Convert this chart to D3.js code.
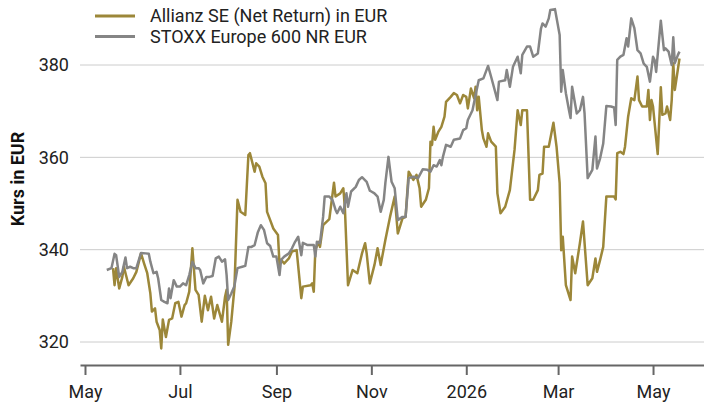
<!DOCTYPE html>
<html>
<head>
<meta charset="utf-8">
<script src="https://cdn.jsdelivr.net/npm/d3@7"></script>
<style>
  body { margin: 0; background: #fff; }
  svg { display: block; font-family: Roboto, "Noto Sans", sans-serif; }
</style>
</head>
<body>
<svg id="chart" width="704" height="403"></svg>
<script>
// Allianz SE (Net Return) in EUR
var allianz = [
    ["2025-05-19", 336.0], ["2025-05-20", 332.3], ["2025-05-21", 336.0], ["2025-05-23", 331.6],
    ["2025-05-25", 334.1], ["2025-05-26", 336.3], ["2025-05-29", 332.3], ["2025-06-01", 333.8],
    ["2025-06-03", 335.2], ["2025-06-06", 339.2], ["2025-06-08", 337.0], ["2025-06-10", 334.9],
    ["2025-06-12", 330.5], ["2025-06-13", 326.6], ["2025-06-15", 327.3], ["2025-06-16", 324.4],
    ["2025-06-18", 322.6], ["2025-06-19", 318.6], ["2025-06-20", 324.9], ["2025-06-22", 321.1],
    ["2025-06-24", 324.8], ["2025-06-26", 325.1], ["2025-06-28", 328.4], ["2025-06-30", 328.7],
    ["2025-07-02", 325.5], ["2025-07-04", 328.0], ["2025-07-05", 328.4], ["2025-07-07", 330.9],
    ["2025-07-09", 340.3], ["2025-07-11", 331.3], ["2025-07-13", 330.2], ["2025-07-15", 324.4],
    ["2025-07-17", 330.0], ["2025-07-19", 326.9], ["2025-07-21", 329.8], ["2025-07-23", 325.1],
    ["2025-07-25", 328.0], ["2025-07-28", 324.4], ["2025-07-30", 329.8], ["2025-07-31", 331.3],
    ["2025-08-01", 319.4], ["2025-08-03", 324.4], ["2025-08-05", 331.6], ["2025-08-07", 350.8],
    ["2025-08-09", 348.2], ["2025-08-12", 347.5], ["2025-08-14", 360.5], ["2025-08-15", 360.9],
    ["2025-08-18", 356.9], ["2025-08-19", 358.7], ["2025-08-21", 358.0], ["2025-08-23", 355.8],
    ["2025-08-25", 354.4], ["2025-08-26", 348.2], ["2025-08-28", 346.4], ["2025-08-30", 344.6],
    ["2025-09-02", 343.2], ["2025-09-03", 336.7], ["2025-09-04", 337.8], ["2025-09-06", 337.0],
    ["2025-09-09", 338.1], ["2025-09-11", 339.6], ["2025-09-14", 339.9], ["2025-09-17", 329.5],
    ["2025-09-18", 332.0], ["2025-09-23", 332.3], ["2025-09-24", 332.7], ["2025-09-25", 330.9],
    ["2025-09-26", 339.9], ["2025-09-28", 341.7], ["2025-09-29", 340.6], ["2025-10-01", 345.3],
    ["2025-10-05", 346.6], ["2025-10-08", 354.5], ["2025-10-09", 351.5], ["2025-10-12", 352.2],
    ["2025-10-14", 353.3], ["2025-10-15", 349.0], ["2025-10-17", 332.3], ["2025-10-20", 335.6],
    ["2025-10-23", 334.9], ["2025-10-26", 339.2], ["2025-10-28", 341.4], ["2025-10-29", 339.2],
    ["2025-10-31", 332.7], ["2025-11-03", 336.7], ["2025-11-05", 340.3], ["2025-11-07", 336.7],
    ["2025-11-10", 342.1], ["2025-11-13", 347.1], ["2025-11-16", 351.5], ["2025-11-18", 343.5],
    ["2025-11-21", 346.8], ["2025-11-23", 347.1], ["2025-11-25", 356.9], ["2025-11-28", 355.1],
    ["2025-11-30", 356.2], ["2025-12-02", 353.3], ["2025-12-03", 349.3], ["2025-12-06", 350.8],
    ["2025-12-08", 353.3], ["2025-12-09", 363.4], ["2025-12-10", 362.7], ["2025-12-11", 366.6],
    ["2025-12-12", 363.8], ["2025-12-14", 365.5], ["2025-12-16", 366.6], ["2025-12-18", 368.8],
    ["2025-12-19", 372.0], ["2025-12-22", 373.1], ["2025-12-24", 373.9], ["2025-12-26", 373.5],
    ["2025-12-28", 371.7], ["2025-12-30", 373.5], ["2026-01-01", 373.1], ["2026-01-02", 370.6],
    ["2026-01-04", 374.9], ["2026-01-06", 372.8], ["2026-01-07", 375.3], ["2026-01-08", 370.2],
    ["2026-01-09", 373.1], ["2026-01-11", 365.9], ["2026-01-12", 364.1], ["2026-01-14", 362.3],
    ["2026-01-15", 365.2], ["2026-01-17", 363.4], ["2026-01-20", 362.3], ["2026-01-21", 352.2],
    ["2026-01-23", 347.9], ["2026-01-26", 349.3], ["2026-01-29", 352.9], ["2026-02-01", 361.6],
    ["2026-02-03", 370.2], ["2026-02-05", 367.0], ["2026-02-06", 370.2], ["2026-02-09", 370.2],
    ["2026-02-11", 350.8], ["2026-02-13", 350.8], ["2026-02-16", 352.9], ["2026-02-17", 356.2],
    ["2026-02-19", 356.5], ["2026-02-20", 362.3], ["2026-02-23", 362.3], ["2026-02-26", 367.5],
    ["2026-02-28", 362.3], ["2026-03-02", 354.4], ["2026-03-03", 339.9], ["2026-03-04", 342.8],
    ["2026-03-06", 332.3], ["2026-03-09", 329.1], ["2026-03-10", 338.5], ["2026-03-12", 334.9],
    ["2026-03-15", 341.4], ["2026-03-17", 346.1], ["2026-03-20", 332.3], ["2026-03-23", 333.8],
    ["2026-03-25", 338.1], ["2026-03-26", 335.2], ["2026-03-28", 337.8], ["2026-03-30", 340.6],
    ["2026-04-01", 351.5], ["2026-04-06", 351.5], ["2026-04-07", 350.9], ["2026-04-08", 360.9],
    ["2026-04-10", 361.2], ["2026-04-12", 360.7], ["2026-04-13", 362.3], ["2026-04-15", 368.8],
    ["2026-04-17", 372.8], ["2026-04-19", 372.4], ["2026-04-21", 377.5], ["2026-04-22", 372.4],
    ["2026-04-24", 371.0], ["2026-04-27", 371.0], ["2026-04-28", 374.6], ["2026-04-29", 368.1],
    ["2026-04-30", 372.4], ["2026-05-01", 371.0], ["2026-05-04", 360.7], ["2026-05-06", 375.2],
    ["2026-05-07", 369.2], ["2026-05-09", 369.5], ["2026-05-10", 371.0], ["2026-05-12", 368.1],
    ["2026-05-13", 372.4], ["2026-05-14", 380.4], ["2026-05-15", 374.6], ["2026-05-18", 381.4]
];

// STOXX Europe 600 NR EUR (rebased)
var stoxx = [
    ["2025-05-15", 335.6], ["2025-05-18", 336.0], ["2025-05-20", 339.1], ["2025-05-21", 338.8],
    ["2025-05-23", 334.1], ["2025-05-25", 335.2], ["2025-05-27", 338.3], ["2025-05-28", 336.0],
    ["2025-05-30", 336.3], ["2025-06-01", 336.0], ["2025-06-03", 336.0], ["2025-06-06", 339.3],
    ["2025-06-09", 339.2], ["2025-06-11", 339.1], ["2025-06-12", 337.4], ["2025-06-14", 334.9],
    ["2025-06-16", 335.2], ["2025-06-17", 333.8], ["2025-06-19", 329.1], ["2025-06-21", 328.7],
    ["2025-06-23", 328.4], ["2025-06-24", 331.6], ["2025-06-25", 329.5], ["2025-06-27", 333.4],
    ["2025-06-29", 332.0], ["2025-07-01", 332.0], ["2025-07-03", 332.7], ["2025-07-05", 332.3],
    ["2025-07-07", 334.5], ["2025-07-09", 337.4], ["2025-07-11", 336.0], ["2025-07-13", 336.0],
    ["2025-07-14", 335.6], ["2025-07-16", 332.7], ["2025-07-18", 334.1], ["2025-07-20", 334.1],
    ["2025-07-22", 334.3], ["2025-07-24", 338.1], ["2025-07-26", 338.5], ["2025-07-28", 337.4],
    ["2025-07-30", 337.9], ["2025-07-31", 334.5], ["2025-08-01", 329.1], ["2025-08-03", 330.5],
    ["2025-08-05", 332.1], ["2025-08-07", 336.0], ["2025-08-10", 336.3], ["2025-08-12", 336.5],
    ["2025-08-14", 340.6], ["2025-08-16", 340.6], ["2025-08-18", 341.0], ["2025-08-20", 343.7],
    ["2025-08-22", 345.3], ["2025-08-24", 344.3], ["2025-08-26", 341.4], ["2025-08-28", 340.8],
    ["2025-08-30", 338.5], ["2025-09-01", 338.5], ["2025-09-03", 334.5], ["2025-09-04", 337.8],
    ["2025-09-06", 338.5], ["2025-09-09", 339.2], ["2025-09-11", 340.3], ["2025-09-13", 341.7],
    ["2025-09-15", 342.8], ["2025-09-17", 338.8], ["2025-09-18", 341.5], ["2025-09-21", 341.0],
    ["2025-09-25", 341.0], ["2025-09-26", 338.5], ["2025-09-27", 341.7], ["2025-09-29", 341.4],
    ["2025-10-01", 347.1], ["2025-10-02", 351.5], ["2025-10-05", 351.5], ["2025-10-07", 350.8],
    ["2025-10-09", 348.6], ["2025-10-10", 347.9], ["2025-10-12", 349.3], ["2025-10-14", 347.9],
    ["2025-10-16", 352.2], ["2025-10-17", 349.3], ["2025-10-19", 352.6], ["2025-10-22", 353.6],
    ["2025-10-24", 355.1], ["2025-10-26", 355.7], ["2025-10-29", 354.7], ["2025-10-31", 352.8],
    ["2025-11-01", 352.6], ["2025-11-03", 352.2], ["2025-11-05", 351.5], ["2025-11-07", 348.2],
    ["2025-11-09", 350.8], ["2025-11-10", 354.4], ["2025-11-12", 360.1], ["2025-11-14", 354.7],
    ["2025-11-16", 353.3], ["2025-11-18", 346.4], ["2025-11-21", 347.1], ["2025-11-23", 347.1],
    ["2025-11-25", 355.5], ["2025-11-28", 355.8], ["2025-12-01", 355.5], ["2025-12-04", 357.4],
    ["2025-12-07", 357.3], ["2025-12-09", 356.9], ["2025-12-11", 358.3], ["2025-12-13", 358.0],
    ["2025-12-15", 359.4], ["2025-12-16", 358.3], ["2025-12-17", 360.1], ["2025-12-19", 362.7],
    ["2025-12-22", 362.3], ["2025-12-24", 363.8], ["2025-12-28", 364.1], ["2025-12-30", 365.9],
    ["2026-01-01", 366.3], ["2026-01-02", 368.1], ["2026-01-05", 370.2], ["2026-01-07", 373.5],
    ["2026-01-09", 376.7], ["2026-01-12", 377.1], ["2026-01-15", 379.8], ["2026-01-17", 377.4],
    ["2026-01-21", 372.4], ["2026-01-22", 376.4], ["2026-01-26", 376.7], ["2026-01-27", 378.9],
    ["2026-01-29", 375.3], ["2026-01-31", 379.6], ["2026-02-03", 381.8], ["2026-02-05", 378.2],
    ["2026-02-06", 382.2], ["2026-02-09", 384.0], ["2026-02-11", 384.0], ["2026-02-13", 381.8],
    ["2026-02-16", 382.5], ["2026-02-18", 387.9], ["2026-02-19", 389.0], ["2026-02-21", 388.3],
    ["2026-02-23", 390.1], ["2026-02-24", 391.9], ["2026-02-27", 392.1], ["2026-03-02", 386.5],
    ["2026-03-03", 374.2], ["2026-03-04", 378.9], ["2026-03-06", 373.9], ["2026-03-08", 370.2],
    ["2026-03-09", 368.5], ["2026-03-10", 375.3], ["2026-03-13", 369.5], ["2026-03-15", 370.2],
    ["2026-03-17", 373.1], ["2026-03-18", 369.5], ["2026-03-20", 355.5], ["2026-03-23", 357.3],
    ["2026-03-25", 364.5], ["2026-03-26", 357.6], ["2026-03-28", 359.8], ["2026-03-30", 363.0],
    ["2026-04-01", 371.1], ["2026-04-04", 371.0], ["2026-04-06", 370.8], ["2026-04-07", 367.0],
    ["2026-04-08", 381.1], ["2026-04-10", 381.8], ["2026-04-12", 382.2], ["2026-04-14", 385.8],
    ["2026-04-15", 384.0], ["2026-04-17", 390.1], ["2026-04-19", 388.0], ["2026-04-21", 383.2],
    ["2026-04-23", 382.5], ["2026-04-25", 380.3], ["2026-04-27", 379.6], ["2026-04-29", 376.4],
    ["2026-05-01", 381.8], ["2026-05-02", 381.1], ["2026-05-03", 378.5], ["2026-05-06", 389.6],
    ["2026-05-08", 383.2], ["2026-05-09", 383.6], ["2026-05-11", 382.9], ["2026-05-13", 380.0],
    ["2026-05-14", 386.0], ["2026-05-15", 380.4], ["2026-05-17", 382.2], ["2026-05-18", 382.9]
];

var seriesNames = ["Allianz SE (Net Return) in EUR", "STOXX Europe 600 NR EUR"];
var seriesColors = ["#9c8739", "#858585"];
var yTicks = [320, 340, 360, 380];
var yTitle = "Kurs in EUR";

var parseDate = d3.utcParse("%Y-%m-%d");
var toPoints = function (arr) {
    return arr.map(function (d) { return {date: parseDate(d[0]), value: d[1]}; });
};
var series = [toPoints(allianz), toPoints(stoxx)];

var svg = d3.select("#chart");

// scales: plot spans x 80..704, axis line at y 365
var x = d3.scaleUtc()
    .domain([Date.UTC(2025, 3, 27, 19), Date.UTC(2026, 5, 2, 18)])
    .range([80, 704]);

var y = d3.scaleLinear()
    .domain([315, 380])
    .range([365.1, 65]);

// gridlines
svg.append("g")
    .selectAll("line")
    .data(yTicks)
    .enter().append("line")
    .attr("x1", 80)
    .attr("x2", 704)
    .attr("y1", function (d) { return y(d); })
    .attr("y2", function (d) { return y(d); })
    .attr("stroke", "#cccccc")
    .attr("stroke-width", 1);

// y labels
var yAxis = d3.axisLeft(y)
    .tickValues(yTicks)
    .tickSize(0)
    .tickPadding(0);

svg.append("g")
    .attr("transform", "translate(69,0)")
    .call(yAxis)
    .call(function (g) { g.select(".domain").remove(); })
    .selectAll("text")
    .attr("font-family", "Roboto, sans-serif")
    .attr("font-size", 18)
    .attr("fill", "#222");

svg.append("text")
    .attr("transform", "translate(24,179) rotate(-90)")
    .attr("text-anchor", "middle")
    .attr("font-size", 18)
    .attr("font-weight", "bold")
    .attr("fill", "#111")
    .text(yTitle);

// x axis
var fmt = function (d) {
    return d.getUTCMonth() === 0 ? d3.utcFormat("%Y")(d) : d3.utcFormat("%b")(d);
};
var xAxis = d3.axisBottom(x)
    .ticks(d3.utcMonth.every(2))
    .tickFormat(fmt)
    .tickSizeInner(10)
    .tickSizeOuter(0)
    .tickPadding(10);

var gx = svg.append("g")
    .attr("transform", "translate(0,365)")
    .call(xAxis);
gx.select(".domain").attr("stroke", "#666").attr("stroke-width", 2);
gx.selectAll(".tick line").attr("stroke", "#666").attr("stroke-width", 2);
gx.selectAll("text")
    .attr("font-family", "Roboto, sans-serif")
    .attr("font-size", 18)
    .attr("fill", "#222");

// lines
var line = d3.line()
    .x(function (d) { return x(d.date); })
    .y(function (d) { return y(d.value); });

svg.append("g")
    .selectAll("path")
    .data(series)
    .enter().append("path")
    .attr("d", line)
    .attr("fill", "none")
    .attr("stroke", function (d, i) { return seriesColors[i]; })
    .attr("stroke-width", 2.5)
    .attr("stroke-linejoin", "round");

// legend
var legend = svg.append("g")
    .selectAll("g")
    .data(seriesNames)
    .enter().append("g")
    .attr("transform", function (d, i) { return "translate(95," + (16 + i * 20.5) + ")"; });

legend.append("line")
    .attr("x1", 0)
    .attr("x2", 40)
    .attr("stroke", function (d, i) { return seriesColors[i]; })
    .attr("stroke-width", 3);

legend.append("text")
    .attr("x", 55)
    .attr("dy", "0.36em")
    .attr("font-size", 18)
    .attr("fill", "#222")
    .text(function (d) { return d; });
</script>
</body>
</html>
